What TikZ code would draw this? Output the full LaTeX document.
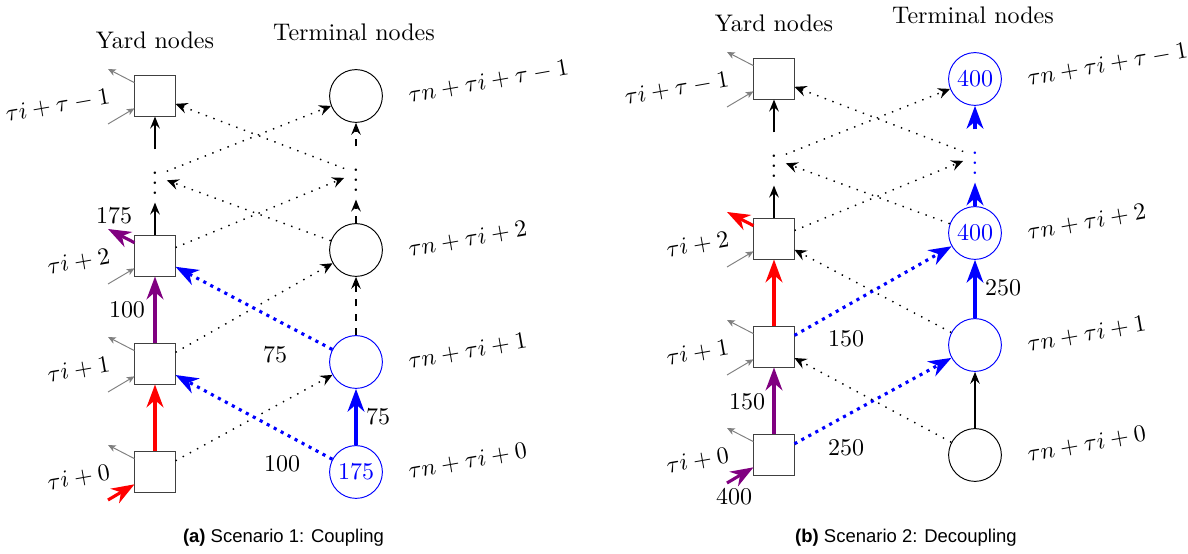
\documentclass[tikz,border=0pt]{standalone}
\usepackage{amsmath,amssymb}
\usepackage{fontspec}
\newfontfamily\capfont{Liberation Sans}
\usetikzlibrary{arrows.meta,calc}

\begin{document}
\begin{tikzpicture}[x=0.41667pt,y=-0.41667pt,
  yard/.style={draw=black!75,minimum size=16.7pt,inner sep=0pt},
  term/.style={circle,draw,minimum size=22pt,inner sep=0pt},
  lab/.style={rotate=10,inner sep=1pt},
  num/.style={inner sep=1pt},
  subcap/.style={font=\capfont\fontsize{7.7}{9}\selectfont},
  flow/.style={line width=1.3pt,-{Stealth[length=9.5pt,width=7pt,inset=3pt]}},
  bflow/.style={flow,dash pattern=on 1.3pt off 2pt},
  link/.style={line width=0.6pt,dash pattern=on 0.6pt off 2.8pt,-{Stealth[length=5pt,width=4.5pt,inset=1.8pt]}},
  hold/.style={semithick,-{Stealth[length=5pt,width=4pt,inset=1.8pt]}},
  gr/.style={gray,-{Stealth[length=3.2pt,width=2.8pt,inset=0.8pt]}}]
  \useasboundingbox (0,0) rectangle (1188,554);
  \foreach \p/\dx/\dy/\ca/\cb/\cc/\cv/\na/\nc in {a/0/0/blue/blue/black/black/175/{},b/619/-17/black/blue/blue/blue/{}/400} {
  \begin{scope}[shift={(\dx,\dy)}]
    \node (yard\p) at (155,40) {Yard nodes};
    \node (term\p) at (354,32) {Terminal nodes};
    \node[yard] (y\p0) at (155,472) {}; \node[yard] (y\p1) at (155,364) {};
    \node[yard] (y\p2) at (155,256) {}; \node[yard] (y\p3) at (155,96) {};
    \node[term,draw=\ca,text=\ca] (t\p0) at (356,472) {\na};
    \node[term,draw=\cb] (t\p1) at (356,362) {};
    \node[term,draw=\cc,text=\cc] (t\p2) at (356,250) {\nc};
    \node[term,draw=\cc,text=\cc] (t\p3) at (356,96) {\nc};
    \node (vy\p) at (155,176) {$\vdots$};
    \node[text=\cv] (vt\p) at (356,173) {$\vdots$};
    \foreach \k/\s in {0/0,1/1,2/2,3/\tau-1} {
      \node[lab,anchor=east] (ly\p\k) at ($(y\p\k.west)+(-22,0)$) {$\tau i+\s$};
      \node[lab,anchor=west] (lt\p\k) at ($(t\p\k.east)+(23,0)$) {$\tau n+\tau i+\s$};
      \coordinate (o\p\k) at ($(y\p\k)+(-47,-27)$);
      \coordinate (i\p\k) at ($(y\p\k)+(-47,28)$);
    }
    \foreach \k in {0,1,3} \draw[gr] (y\p\k.147) -- (o\p\k);
    \foreach \k in {1,2,3} \draw[gr] (i\p\k) -- (y\p\k.211);
    \draw[hold] (y\p2) -- (vy\p); \draw[hold] (vy\p) -- (y\p3);
    \draw[link] (vt\p) -- (y\p3); \draw[link] (vy\p) -- (t\p3);
    \draw[link] (t\p2) -- (vy\p); \draw[link] (y\p2) -- (vt\p);
  \end{scope} }
  % (a) coupling
  \draw[flow,red] (ya0) -- (ya1);
  \draw[flow,violet] (ya1) -- (ya2);
  \draw[flow,violet] (ya2.147) -- (oa2);
  \draw[flow,red] (ia0) -- (ya0.211);
  \draw[link] (ya0) -- (ta1); \draw[link] (ya1) -- (ta2);
  \draw[bflow,blue] (ta0) -- (ya1); \draw[bflow,blue] (ta1) -- (ya2);
  \draw[flow,blue] (ta0) -- (ta1);
  \draw[hold,dashed] (ta1) -- (ta2); \draw[hold,dashed] (ta2) -- (vta); \draw[hold,dashed] (vta) -- (ta3);
  \node[num] (na1) at (114,216) {175};
  \node[num] (na2) at (127,310) {100};
  \node[num] (na3) at (275,355) {75};
  \node[num] (na4) at (282,464) {100};
  \node[num] (na5) at (378,417) {75};
  \node[subcap] (capa) at (283.5,538) {\textbf{(a)} Scenario 1: Coupling};
  % (b) decoupling
  \draw[flow,violet] (yb0) -- (yb1);
  \draw[flow,red] (yb1) -- (yb2);
  \draw[flow,red] (yb2.147) -- (ob2);
  \draw[flow,violet] (ib0) -- (yb0.211);
  \draw[bflow,blue] (yb0) -- (tb1); \draw[bflow,blue] (yb1) -- (tb2);
  \draw[link] (tb0) -- (yb1); \draw[link] (tb1) -- (yb2);
  \draw[hold] (tb0) -- (tb1);
  \draw[flow,blue] (tb1) -- (tb2); \draw[flow,blue] (tb2) -- (vtb); \draw[flow,blue] (vtb) -- (tb3);
  \node[num] (nb1) at (747,402) {150};
  \node[num] (nb2) at (734,497) {400};
  \node[num] (nb3) at (846,339) {150};
  \node[num] (nb4) at (846,448) {250};
  \node[num] (nb5) at (1003,288) {250};
  \node[subcap] (capb) at (906,538) {\textbf{(b)} Scenario 2: Decoupling};
\end{tikzpicture}
\end{document}
